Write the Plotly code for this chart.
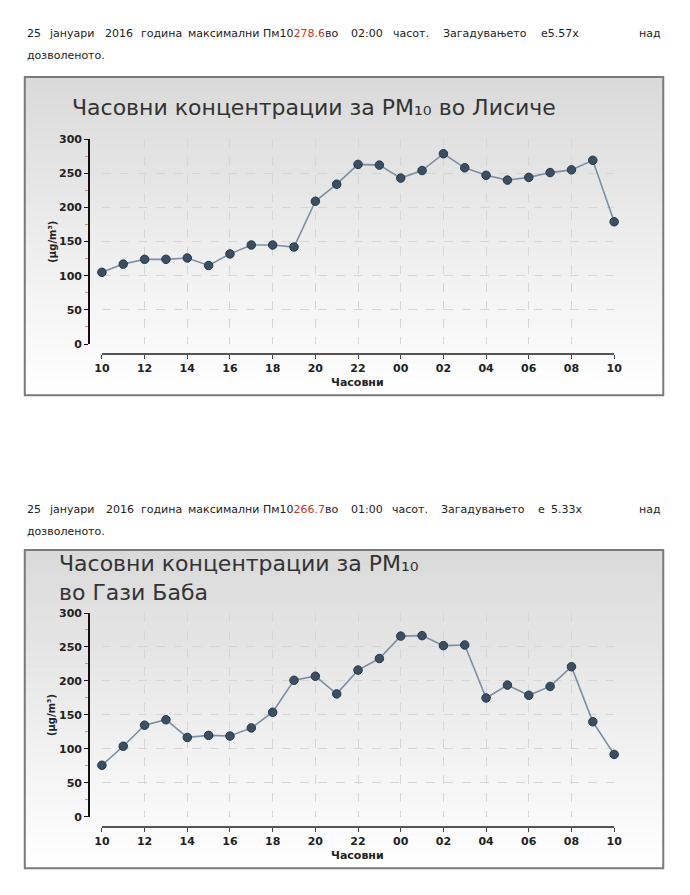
import plotly.graph_objects as go

# the page body keeps its default 8px margin, so the figure is 16px smaller
# than the 690x895 window and all positions below are given in window pixels
W, H = 674, 879
OFF = 8

# hours on the x axis (10:00 on the 25th to 10:00 on the 26th)
HOURS = ["10", "11", "12", "13", "14", "15", "16", "17", "18", "19", "20", "21",
         "22", "23", "00", "01", "02", "03", "04", "05", "06", "07", "08", "09", "10"]

# PM10 hourly values (ug/m3)
LISICHE = [105, 117, 124, 124, 126, 115, 132, 145, 145, 142, 209, 234,
           263, 262, 243, 254, 278.6, 258, 247, 240, 244, 251, 255, 269, 179]
GAZI_BABA = [76, 104, 135, 143, 117, 120, 119, 131, 154, 201, 207, 181,
             216, 233, 266, 266.7, 252, 253, 175, 194, 179, 192, 221, 140, 92]

Y_TICKS = [0, 50, 100, 150, 200, 250, 300]

RED = "#c0392b"
TEXT1 = ["25", "јануари", "2016", "година", "максимални",
         "Пм10<span style='color:%s'>278.6</span>во" % RED,
         "02:00", "часот.", "Загадувањето", "е5.57x", "над"]
TEXT1_X = [17, 40, 97, 134, 182, 259, 349, 392, 443, 544, 644]
TEXT2 = ["25", "јануари", "2016", "година", "максимални",
         "Пм10<span style='color:%s'>266.7</span>во" % RED,
         "01:00", "часот.", "Загадувањето", "е", "5.33x", "над"]
TEXT2_X = [17, 40, 98, 134, 182, 259, 349, 391, 441, 541, 554, 644]


def px(x):
    return (x - OFF) / W


def py(y):
    return 1 - (y - OFF) / H


idx = list(range(len(HOURS)))
fig = go.Figure()

charts = [
    dict(vals=LISICHE, top=72, bottom=395, y300=135, y0=343, xline=353, n=""),
    dict(vals=GAZI_BABA, top=552, bottom=875, y300=616, y0=823, xline=833, n="2"),
]

shapes = []
annotations = []
tick_font = dict(family="DejaVu Sans", size=11, color="#222", weight="bold")

for c in charts:
    fig.add_trace(go.Scatter(
        x=idx, y=c["vals"], mode="lines+markers",
        xaxis="x" + c["n"], yaxis="y" + c["n"], cliponaxis=False,
        line=dict(color="#7d8fa3", width=1.6),
        marker=dict(size=8.5, color="#3b4f63", line=dict(color="#26384a", width=1)),
        showlegend=False, hoverinfo="skip",
    ))

    fig.update_layout(**{
        "xaxis" + c["n"]: dict(
            domain=[px(96), px(620.7)], range=[0, len(HOURS) - 1],
            anchor="free", position=py(c["xline"]),
            tickvals=idx[::2], ticktext=HOURS[::2],
            ticks="outside", ticklen=4, tickcolor="#444",
            showline=True, linecolor="#555", linewidth=2,
            showgrid=True, gridcolor="#d6d6d6", griddash="dash", gridwidth=1,
            zeroline=False, tickfont=tick_font, fixedrange=True,
        ),
        "yaxis" + c["n"]: dict(
            domain=[py(c["y0"]), py(c["y300"])], range=[0, 300],
            anchor="free", position=px(83),
            tickvals=Y_TICKS, ticks="outside", ticklen=4, tickcolor="#111",
            minor=dict(dtick=25, ticks="outside", ticklen=3, tickcolor="#d98c8c", showgrid=False),
            showline=True, linecolor="#111", linewidth=2,
            showgrid=True, gridcolor="#d6d6d6", griddash="dash", gridwidth=1,
            zeroline=False, tickfont=tick_font, fixedrange=True,
        ),
    })

    # gradient background of the chart frame
    nb = 40
    band = (c["bottom"] - c["top"]) / nb
    for i in range(nb):
        t = i / (nb - 1)
        g = int(round(218 + (255 - 218) * t))
        shapes.append(dict(
            type="rect", xref="paper", yref="paper", layer="below",
            x0=px(17), x1=px(671), y0=py(c["top"] + i * band), y1=py(c["top"] + (i + 1) * band + 0.5),
            fillcolor="rgb(%d,%d,%d)" % (g, g, g), line=dict(width=0),
        ))
    shapes.append(dict(
        type="rect", xref="paper", yref="paper", layer="below",
        x0=px(17), x1=px(671), y0=py(c["top"]), y1=py(c["bottom"]),
        line=dict(color="#7a7a7a", width=2), fillcolor="rgba(0,0,0,0)",
    ))

    annotations.append(dict(
        text="(µg/m³)", x=px(45), y=py((c["y300"] + c["y0"]) / 2), xref="paper", yref="paper",
        textangle=-90, showarrow=False, xanchor="center", yanchor="middle",
        font=dict(family="DejaVu Sans", size=10, color="#222", weight="bold"),
    ))
    annotations.append(dict(
        text="Часовни", x=px(358), y=py(c["xline"] + 29), xref="paper", yref="paper",
        showarrow=False, xanchor="center", yanchor="middle",
        font=dict(family="DejaVu Sans", size=11, color="#222", weight="bold"),
    ))

title_font = dict(family="DejaVu Sans", size=22, color="#333")
annotations.append(dict(
    text="Часовни концентрации за PM₁₀ во Лисиче", x=px(63), y=py(103),
    xref="paper", yref="paper", showarrow=False, xanchor="left", yanchor="middle", font=title_font,
))
annotations.append(dict(
    text="Часовни концентрации за PM₁₀<br>во Гази Баба", x=px(50), y=py(580),
    xref="paper", yref="paper", showarrow=False, xanchor="left", yanchor="middle", align="left",
    font=title_font,
))

para_font = dict(family="DejaVu Sans", size=11, color="#222")
for words, xs, y1 in [(TEXT1, TEXT1_X, 28), (TEXT2, TEXT2_X, 511)]:
    for w, x in zip(words, xs):
        annotations.append(dict(
            text=w, x=px(x), y=py(y1), xref="paper", yref="paper", showarrow=False,
            xanchor="left", yanchor="middle", font=para_font,
        ))
    annotations.append(dict(
        text="дозволеното.", x=px(17), y=py(y1 + 22), xref="paper", yref="paper", showarrow=False,
        xanchor="left", yanchor="middle", font=para_font,
    ))

fig.update_layout(
    width=W, height=H, autosize=False,
    margin=dict(l=0, r=0, t=0, b=0),
    paper_bgcolor="white", plot_bgcolor="rgba(0,0,0,0)",
    shapes=shapes, annotations=annotations,
)

fig.write_html("out.html")
